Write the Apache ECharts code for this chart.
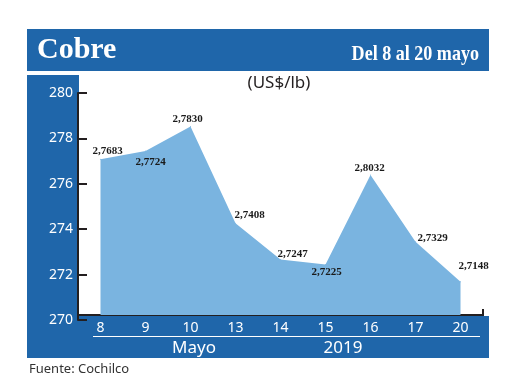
<!DOCTYPE html>
<html><head><meta charset="utf-8">
<script src="https://cdn.jsdelivr.net/npm/echarts@6/dist/echarts.min.js"></script>
<style>html,body{margin:0;padding:0;background:#fff}#c{width:520px;height:390px}</style>
</head><body><div id="c"></div>
<script>
// Data
const categories = ['8', '9', '10', '13', '14', '15', '16', '17', '20'];
const values = [277.08, 277.44, 278.52, 274.26, 272.67, 272.45, 276.39, 273.45, 271.69];
const labelTexts = ['2,7683', '2,7724', '2,7830', '2,7408', '2,7247', '2,7225', '2,8032', '2,7329', '2,7148'];
const yMin = 270, yMax = 280, yStep = 2;
const title = 'Cobre';
const subtitle = 'Del 8 al 20 mayo';
const unit = '(US$/lb)';
const groupLabels = ['Mayo', '2019'];
const source = 'Fuente: Cochilco';

// Styling (label offsets in px)
const labelOffsets = [[7, -8], [5, 11], [-3, -7], [14, -8], [12, -5], [1, 8], [-1, -7], [17, -4], [13, -15]];
const DARK = '#1f66aa', LIGHT = '#7ab4e0', INK = '#231f20';

const chart = echarts.init(document.getElementById('c'), null, { renderer: 'canvas' });
const seriesData = values.map((v, i) => ({ value: v, label: { offset: labelOffsets[i] } }));

chart.setOption({
  animation: false,
  grid: { left: 78, right: 37, top: 93, bottom: 70 },
  xAxis: {
    type: 'category', data: categories, boundaryGap: true, offset: -5,
    axisLine: { lineStyle: { color: INK, width: 2 } },
    axisTick: { show: false },
    axisLabel: { color: '#fff', fontFamily: 'Noto Sans', fontSize: 14, margin: 6 }
  },
  yAxis: {
    type: 'value', min: yMin, max: yMax, interval: yStep,
    splitLine: { show: false },
    axisLine: { show: true, lineStyle: { color: INK, width: 2 } },
    axisTick: { show: true, inside: true, length: 9, lineStyle: { color: INK, width: 2 } },
    axisLabel: { color: '#fff', fontFamily: 'Noto Sans', fontSize: 14, margin: 5 }
  },
  series: [{
    type: 'line', data: seriesData, symbol: 'circle', symbolSize: 1,
    itemStyle: { color: LIGHT },
    lineStyle: { width: 0, color: LIGHT },
    areaStyle: { color: LIGHT, opacity: 1, origin: 270.22 },
    label: {
      show: true, position: 'inside',
      formatter: p => labelTexts[p.dataIndex],
      color: '#1a1a1a', fontFamily: 'Liberation Serif', fontWeight: 'bold', fontSize: 11
    }
  }],
  graphic: [
    { type: 'rect', z: -10, shape: { x: 27, y: 29, width: 462, height: 42 }, style: { fill: DARK } },
    { type: 'rect', z: -10, shape: { x: 27, y: 75, width: 52, height: 283 }, style: { fill: DARK } },
    { type: 'rect', z: -10, shape: { x: 27, y: 316, width: 462, height: 42 }, style: { fill: DARK } },
    { type: 'line', z: 10, shape: { x1: 93, y1: 336.5, x2: 480, y2: 336.5 }, style: { stroke: '#fff', lineWidth: 1 } },
    { type: 'line', z: 10, shape: { x1: 483, y1: 309, x2: 483, y2: 316 }, style: { stroke: INK, lineWidth: 2 } },
    { type: 'text', z: 10, x: 37, y: 50, style: { text: title, fill: '#fff', font: 'bold 30px "Liberation Serif"', textAlign: 'left', textVerticalAlign: 'middle' } },
    { type: 'text', z: 10, x: 479, y: 55, scaleX: 0.86, style: { text: subtitle, fill: '#fff', font: 'bold 21px "Liberation Serif"', textAlign: 'right', textVerticalAlign: 'middle' } },
    { type: 'text', z: 10, x: 279, y: 83, style: { text: unit, fill: INK, font: '17px "Noto Sans"', textAlign: 'center', textVerticalAlign: 'middle' } },
    { type: 'text', z: 10, x: 194, y: 348, style: { text: groupLabels[0], fill: '#fff', font: '17px "Noto Sans"', textAlign: 'center', textVerticalAlign: 'middle' } },
    { type: 'text', z: 10, x: 343, y: 348, style: { text: groupLabels[1], fill: '#fff', font: '17px "Noto Sans"', textAlign: 'center', textVerticalAlign: 'middle' } },
    { type: 'text', z: 10, x: 29, y: 369, style: { text: source, fill: '#333', font: '13px "Noto Sans"', textAlign: 'left', textVerticalAlign: 'middle' } }
  ]
});
</script>
</body></html>
